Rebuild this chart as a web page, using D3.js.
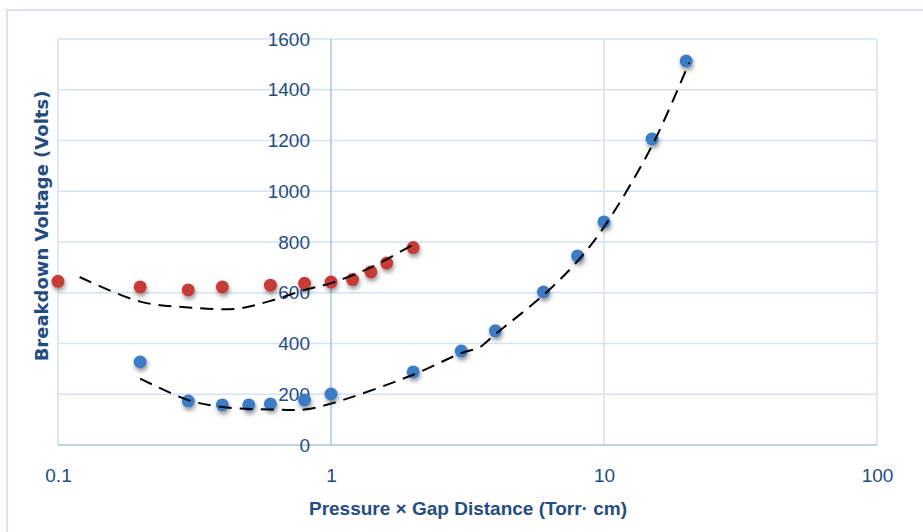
<!DOCTYPE html>
<html>
<head>
<meta charset="utf-8">
<script src="https://cdn.jsdelivr.net/npm/d3@7"></script>
<style>
  html, body { margin: 0; padding: 0; background: #fff; }
  svg { display: block; }
</style>
</head>
<body>
<svg id="chart" width="923" height="532"></svg>
<script>
// ---- data ----
const redX = [0.1, 0.2, 0.3, 0.4, 0.6, 0.8, 1, 1.2, 1.4, 1.6, 2];
const redY = [645, 623, 611, 623, 630, 637, 642, 652, 682, 717, 778];
const blueX = [0.2, 0.3, 0.4, 0.5, 0.6, 0.8, 1, 2, 3, 4, 6, 8, 10, 15, 20];
const blueY = [327, 173, 158, 158, 162, 177, 201, 288, 370, 450, 603, 745, 879, 1206, 1513];
const redTrendX = [0.12, 0.2, 0.3, 0.45, 0.6, 0.8, 1, 1.4, 2];
const redTrendY = [662, 565, 542, 537, 568, 611, 638, 700, 790];
const blueTrendX = [0.2, 0.3, 0.4, 0.6, 0.8, 1, 2, 3, 3.5, 4, 6, 8, 10, 15, 20.5];
const blueTrendY = [262, 177, 150, 140, 140, 163, 277, 362, 385, 437, 591, 725, 859, 1180, 1507];
const xTicks = [0.1, 1, 10, 100];
const xTickLabels = ["0.1", "1", "10", "100"];
const yTicks = [0, 200, 400, 600, 800, 1000, 1200, 1400, 1600];
const xTitle = "Pressure \u00d7 Gap Distance (Torr\u00b7 cm)";
const yTitle = "Breakdown Voltage (Volts)";

// ---- layout ----
const svg = d3.select("#chart");
const L = 58, R = 877, T = 39, B = 445;
const x = d3.scaleLog().domain([0.1, 100]).range([L, R]);
const y = d3.scaleLinear().domain([0, 1600]).range([B, T]);
const textColor = "#244c80";
const gridColor = "#d5e2f3";

// shadow filter
const defs = svg.append("defs");
const f = defs.append("filter").attr("id", "sh").attr("x", "-60%").attr("y", "-60%").attr("width", "220%").attr("height", "220%");
f.append("feDropShadow").attr("dx", 1).attr("dy", 3).attr("stdDeviation", 2)
  .attr("flood-color", "#000").attr("flood-opacity", 0.4);

// outer frame
svg.append("rect").attr("x", 7).attr("y", 10).attr("width", 940).attr("height", 540)
  .attr("fill", "none").attr("stroke", "#d9e3f2").attr("stroke-width", 2);

// horizontal grid
svg.append("g").selectAll("line").data(yTicks.filter(d => d > 0)).join("line")
  .attr("x1", L).attr("x2", R).attr("y1", d => y(d)).attr("y2", d => y(d))
  .attr("stroke", gridColor).attr("stroke-width", 1.5);
// vertical grid
svg.append("g").selectAll("line").data(xTicks.filter(d => d !== 1)).join("line")
  .attr("y1", T).attr("y2", B).attr("x1", d => x(d)).attr("x2", d => x(d))
  .attr("stroke", gridColor).attr("stroke-width", 1.5);

// axes lines
svg.append("line").attr("x1", L).attr("x2", R).attr("y1", y(0)).attr("y2", y(0))
  .attr("stroke", "#a8c3e6").attr("stroke-width", 1.5);
svg.append("line").attr("x1", x(1)).attr("x2", x(1)).attr("y1", T).attr("y2", B)
  .attr("stroke", "#a8c3e6").attr("stroke-width", 1.5);

// y tick labels (axis crosses at x=1)
const yAxis = d3.axisLeft(y).tickValues(yTicks).tickSize(0).tickPadding(21).tickFormat(d3.format("d"));
const ya = svg.append("g").attr("transform", `translate(${x(1)},0)`).call(yAxis);
ya.select(".domain").remove();
ya.selectAll("text").attr("fill", textColor)
  .style("font-family", "'Liberation Sans', Arial, sans-serif").style("font-size", "19px");

// x tick labels
const xAxis = d3.axisBottom(x).tickValues(xTicks).tickSize(0).tickPadding(24)
  .tickFormat((d, i) => xTickLabels[i]);
const xa = svg.append("g").attr("transform", `translate(0,${B})`).call(xAxis);
xa.select(".domain").remove();
xa.selectAll("text").attr("fill", textColor)
  .style("font-family", "'Liberation Sans', Arial, sans-serif").style("font-size", "19px");

// trend lines
const line = d3.line().x(d => x(d[0])).y(d => y(d[1])).curve(d3.curveCatmullRom);
const trendStyle = sel => sel.attr("fill", "none").attr("stroke", "#000").attr("stroke-width", 2)
  .attr("stroke-dasharray", "13,8");

// markers
const drawPts = (xs, ys, color) => {
  svg.append("g").attr("filter", "url(#sh)").selectAll("circle").data(xs.map((d, i) => [d, ys[i]])).join("circle")
    .attr("cx", d => x(d[0])).attr("cy", d => y(d[1])).attr("r", 6.5).attr("fill", color);
};
drawPts(redX, redY, "#c43a37");
drawPts(blueX, blueY, "#3b7bc4");

svg.append("path").datum(redTrendX.map((d, i) => [d, redTrendY[i]])).attr("d", line).call(trendStyle);
svg.append("path").datum(blueTrendX.map((d, i) => [d, blueTrendY[i]])).attr("d", line).call(trendStyle);

// titles
svg.append("text").attr("x", 468).attr("y", 515).attr("text-anchor", "middle")
  .attr("fill", textColor).style("font-family", "'Liberation Sans', Arial, sans-serif")
  .style("font-weight", "bold").style("font-size", "19px").text(xTitle);
svg.append("text").attr("transform", "translate(48,226) rotate(-90)").attr("text-anchor", "middle")
  .attr("fill", textColor).style("font-family", "'DejaVu Sans', Verdana, sans-serif")
  .style("font-weight", "bold").style("font-size", "18px").text(yTitle);
</script>
</body>
</html>
